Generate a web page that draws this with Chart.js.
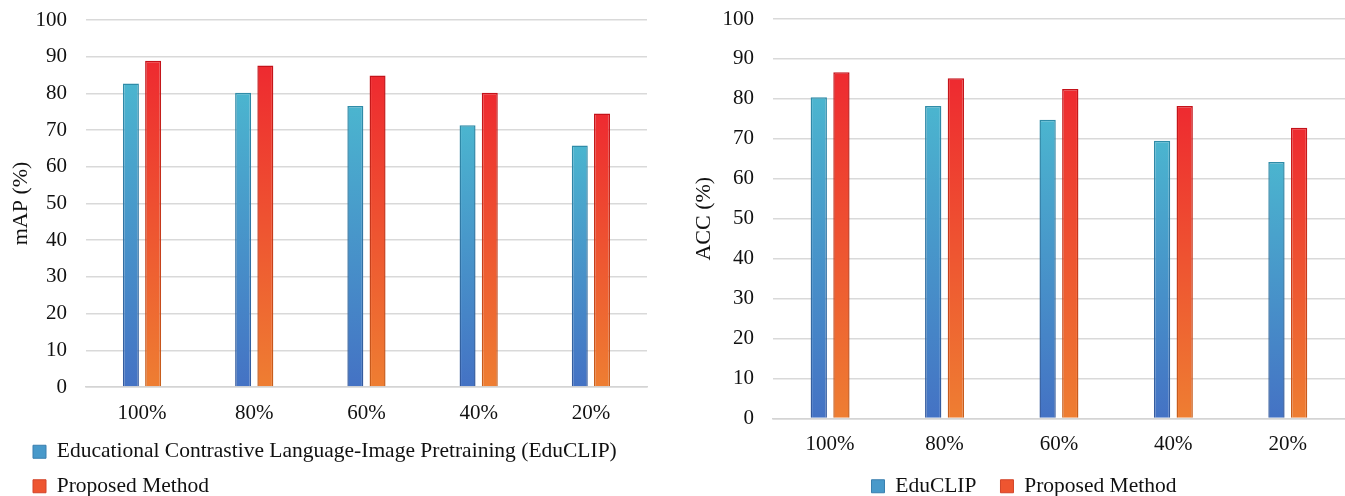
<!DOCTYPE html>
<html>
<head>
<meta charset="utf-8">
<script src="https://cdn.jsdelivr.net/npm/chart.js@4.4.1/dist/chart.umd.min.js"></script>
<style>
  html, body { margin: 0; padding: 0; background: #fff; overflow: hidden; }
  #wrap { position: relative; width: 1345px; height: 496px; overflow: hidden; }
  #mapChart { position: absolute; left: 0; top: 0; }
  #accChart { position: absolute; left: 680px; top: 0; }
</style>
</head>
<body>
<div id="wrap">
  <canvas id="mapChart" width="660" height="507"></canvas>
  <canvas id="accChart" width="665" height="507"></canvas>
</div>
<script>
const categories = ["100%", "80%", "60%", "40%", "20%"];
const mapEduClip = [82.7, 80.2, 76.6, 71.3, 65.8];
const mapProposed = [88.9, 87.6, 84.9, 80.2, 74.5];
const accEduClip = [80.4, 78.2, 74.8, 69.5, 64.2];
const accProposed = [86.7, 85.2, 82.5, 78.2, 72.8];

Chart.defaults.font.family = "'Liberation Serif', 'Times New Roman', serif";
Chart.defaults.color = "#111";

// vertical gradient running from the top of each bar down to zero
function barGradient(top, bottom) {
  return function (ctx) {
    const chart = ctx.chart;
    if (ctx.type !== "data" || !chart.chartArea) return top;
    const y = chart.scales.y;
    const g = chart.ctx.createLinearGradient(0, y.getPixelForValue(ctx.raw), 0, y.getPixelForValue(0));
    g.addColorStop(0, top);
    g.addColorStop(1, bottom);
    return g;
  };
}

const legendFill = ["#4899CA", "#EE5530"];
const legendStroke = ["#3A7FAF", "#D2452A"];

// nudge the legend sideways after layout
const legendShift = {
  id: "legendShift",
  afterLayout(chart, args, opts) {
    chart.legend.left += opts.dx || 0;
    chart.legend.right += opts.dx || 0;
  }
};

function makeChart(id, yTitle, names, eduData, propData, o) {
  return new Chart(document.getElementById(id), {
    type: "bar",
    data: {
      labels: categories,
      datasets: [{
        label: names[0],
        data: eduData,
        backgroundColor: barGradient("#4BB5CF", "#4472C4"),
        borderColor: barGradient("#2F8CA8", "#34599E"),
        borderWidth: 1.5,
        categoryPercentage: 0.396,
        barPercentage: 0.72
      }, {
        label: names[1],
        data: propData,
        backgroundColor: barGradient("#EE2A30", "#EE7E32"),
        borderColor: barGradient("#C4121A", "#C8601C"),
        borderWidth: 1.5,
        categoryPercentage: 0.396,
        barPercentage: 0.72
      }]
    },
    options: {
      responsive: false,
      animation: false,
      layout: { padding: o.padding },
      plugins: {
        tooltip: { enabled: false },
        legendShift: { dx: o.legendDx },
        legend: {
          position: "bottom",
          align: o.legendAlign,
          labels: {
            boxWidth: 13,
            boxHeight: 13,
            padding: o.legendPad,
            color: "#111",
            font: { size: 21.5 },
            generateLabels(chart) {
              return Chart.defaults.plugins.legend.labels.generateLabels(chart).map((item, i) =>
                Object.assign(item, { fillStyle: legendFill[i], strokeStyle: legendStroke[i], lineWidth: 1 }));
            }
          }
        }
      },
      scales: {
        x: {
          grid: { display: false, drawTicks: false },
          border: { display: true, color: "#d4d4d4", width: 1.6 },
          ticks: { padding: o.xPad, font: { size: 21 } },
          afterFit(s) { s.height = o.xHeight; }
        },
        y: {
          min: 0,
          max: 100,
          ticks: { stepSize: 10, padding: 0, font: { size: 21 } },
          grid: { color: "#d9d9d9", lineWidth: 1.5, tickLength: 19, tickColor: "rgba(0,0,0,0)" },
          border: { display: false },
          title: { display: true, text: yTitle, font: { size: 22 }, padding: o.titlePad }
        }
      }
    },
    plugins: [legendShift]
  });
}

makeChart("mapChart", "mAP (%)",
  ["Educational Contrastive Language-Image Pretraining (EduCLIP)", "Proposed Method"],
  mapEduClip, mapProposed,
  { padding: { left: 0, right: 13, top: 20, bottom: 0 }, legendAlign: "start", legendPad: 13, legendDx: 20,
    xPad: 14, xHeight: 41, titlePad: { top: 8, bottom: 1 } });

makeChart("accChart", "ACC (%)",
  ["EduCLIP", "Proposed Method"],
  accEduClip, accProposed,
  { padding: { left: 7, right: 0, top: 19, bottom: 0 }, legendAlign: "center", legendPad: 24, legendDx: 8,
    xPad: 13.4, xHeight: 33, titlePad: { top: 4, bottom: 5 } });
</script>
</body>
</html>
